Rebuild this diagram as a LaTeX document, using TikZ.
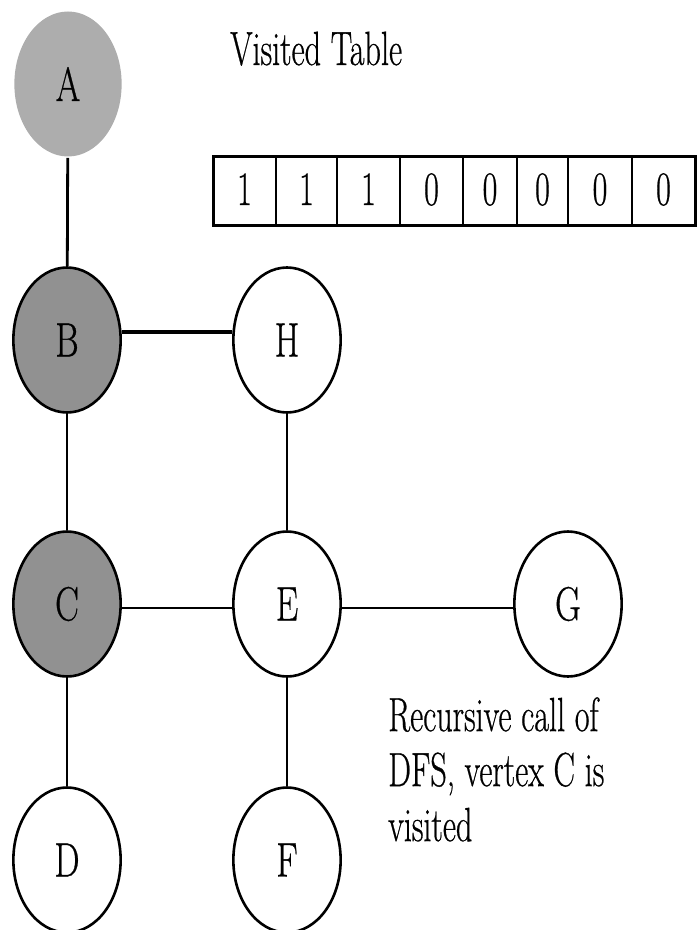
\documentclass[tikz,border=0pt]{standalone}
\usepackage{fontspec}
\setmainfont{Latin Modern Roman}[FakeBold=0.7]
\usetikzlibrary{positioning}
\tikzset{vtx/.style={circle,draw,line width=1.3pt,minimum size=72.5pt,inner sep=0pt,xscale=0.74,font=\fontsize{24}{28}\selectfont},
  root/.style={vtx,draw=none,fill=black!32},
  seen/.style={vtx,fill=black!43},
  link/.style={line width=1.4pt},
  txt/.style={inner sep=0pt,xscale=0.67,font=\fontsize{24}{27.5}\selectfont}}

\begin{document}
\begin{tikzpicture}[x=0.5pt,y=-0.5pt]
\useasboundingbox (0,0) rectangle (696,930);
% vertices
\node[root] (A) at (68,84) {A};
\node[seen] (B) at (67,340) {B};
\node[vtx] (H) at (287,340) {H};
\node[seen] (C) at (67,604) {C};
\node[vtx] (E) at (287,604) {E};
\node[vtx] (G) at (568,604) {G};
\node[vtx] (D) at (67,860) {D};
\node[vtx] (F) at (287,860) {F};
% edges
\draw[link] (A) -- (B);
\draw[link,line width=1.9pt] ([yshift=4pt]B.east) -- ([yshift=4pt]H.west);
\draw[link] (B) -- (C);
\draw[link] (H) -- (E);
\draw[link] ([yshift=-2pt]C.east) -- ([yshift=-2pt]E.west);
\draw[link] ([yshift=-2pt]E.east) -- ([yshift=-2pt]G.west);
\draw[link] (C) -- (D);
\draw[link] (E) -- (F);
% visited table
\node[txt,anchor=base west] (title) at (230,65) {Visited Table};
\draw[line width=1.5pt] (213,157) rectangle (695,226);
\foreach \x in {276,337,400,463,517,568,632} \draw[line width=1.1pt] (\x,157) -- (\x,226);
\foreach \l/\r/\v [count=\i] in {213/276/1,276/337/1,337/400/1,400/463/0,463/517/0,517/568/0,568/632/0,632/695/0}
  \node[txt,anchor=base] (cell\i) at ({(\l+\r)/2},205) {\v};
% note
\node[txt,anchor=north west,align=left] (note) at (388,697) {Recursive call of\\DFS, vertex C is\\visited};
\end{tikzpicture}
\end{document}
